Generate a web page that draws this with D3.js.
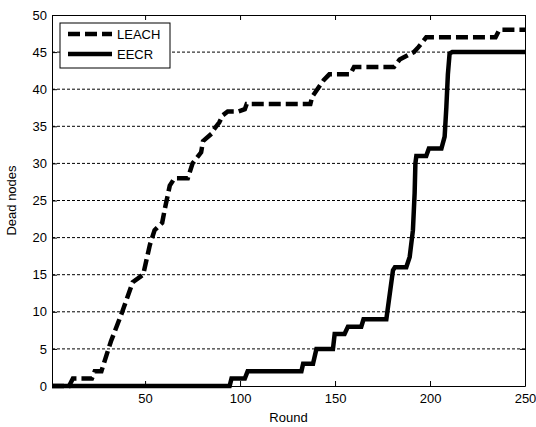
<!DOCTYPE html>
<meta charset="utf-8">
<script src="https://d3js.org/d3.v7.min.js"></script>
<style>
  body { margin: 0; background: #fff; }
  text { font-family: Arial, "Liberation Sans", sans-serif; fill: #000; }
</style>
<div id="my_dataviz"></div>
<script>

// curve readings (round, dead nodes)
var leachRound = [1, 10, 12, 22, 23.5, 27, 32, 38, 43.5, 49, 52.5, 55, 59, 60.5, 63, 65.5, 72.5, 75, 79.5, 80.5, 85, 86, 89, 91, 93.5, 99, 102.5, 103.5, 137, 138, 141.5, 144, 147, 158, 160, 181, 184, 187, 191.5, 194, 198, 234.5, 236.5, 250];
var leachDead  = [0, 0, 1, 1, 2, 2, 6, 10, 14, 15, 19, 21, 22, 24, 27, 28, 28, 30, 31.5, 33, 34, 34.5, 35.5, 36.5, 37, 37, 37.3, 38, 38, 39, 40.3, 41.2, 42, 42, 43, 43, 44, 44.4, 45, 45.7, 47, 47, 48, 48];

var eecrRound = [1, 94.5, 95.5, 102.5, 104, 132.3, 133.2, 138.4, 140.2, 148.9, 149.8, 155, 156.8, 163.8, 165, 177, 180.5, 181.5, 187.5, 189.3, 191, 191.9, 192.3, 192.8, 198, 199.4, 206, 207.7, 208.6, 209.4, 210.3, 211.7, 250];
var eecrDead  = [0, 0, 1, 1, 2, 2, 3, 3, 5, 5, 7, 7, 8, 8, 9, 9, 15.6, 16, 16, 17.4, 21, 26, 30, 31, 31, 32, 32, 33.6, 37.6, 42, 44.8, 45, 45];

var xTicks = [50, 100, 150, 200, 250];
var yTicks = [0, 5, 10, 15, 20, 25, 30, 35, 40, 45, 50];
var seriesNames = ["LEACH", "EECR"];

var W = 536, H = 427;
var margin = {top: 15, right: 11, bottom: 41, left: 52};
var width = W - margin.left - margin.right,
    height = H - margin.top - margin.bottom;

var svg = d3.select("#my_dataviz")
  .append("svg")
    .attr("width", W)
    .attr("height", H)
  .append("g")
    .attr("transform", "translate(" + margin.left + "," + margin.top + ")");

var x = d3.scaleLinear().domain([1, 250]).range([0, width]);
var y = d3.scaleLinear().domain([0, 50]).range([height, 0]);

// horizontal grid
svg.selectAll(".grid")
  .data(yTicks.filter(function(d) { return d > 0 && d < 50; }))
  .enter().append("line")
    .attr("x1", 0).attr("x2", width)
    .attr("y1", function(d) { return y(d); })
    .attr("y2", function(d) { return y(d); })
    .attr("stroke", "#000")
    .attr("stroke-width", 1)
    .attr("stroke-dasharray", "3,2");

// axes
var xAxis = svg.append("g")
  .attr("transform", "translate(0," + height + ")")
  .call(d3.axisBottom(x).tickValues(xTicks).tickSizeInner(-5).tickSizeOuter(0).tickPadding(8));
var xAxisTop = svg.append("g")
  .call(d3.axisTop(x).tickValues(xTicks).tickSizeInner(-5).tickSizeOuter(0).tickFormat(""));
var yAxis = svg.append("g")
  .call(d3.axisLeft(y).tickValues(yTicks).tickSizeInner(-5).tickSizeOuter(0).tickPadding(5));
var yAxisRight = svg.append("g")
  .attr("transform", "translate(" + width + ",0)")
  .call(d3.axisRight(y).tickValues(yTicks).tickSizeInner(-5).tickSizeOuter(0).tickFormat(""));

svg.selectAll(".domain").attr("stroke", "#000");
svg.selectAll(".tick line").attr("stroke", "#000");
svg.selectAll(".tick text").style("font-size", "13px").attr("fill", "#000");

// lines
var line = d3.line()
  .x(function(d) { return x(d[0]); })
  .y(function(d) { return y(d[1]); });

var leach = leachRound.map(function(r, i) { return [r, leachDead[i]]; });
var eecr = eecrRound.map(function(r, i) { return [r, eecrDead[i]]; });

svg.append("path")
  .datum(eecr)
  .attr("d", line)
  .attr("fill", "none")
  .attr("stroke", "#000")
  .attr("stroke-width", 4.5);

svg.append("path")
  .datum(leach)
  .attr("d", line)
  .attr("fill", "none")
  .attr("stroke", "#000")
  .attr("stroke-width", 4.5)
  .attr("stroke-dasharray", "12,5");

// axis labels
svg.append("text")
  .attr("x", width / 2)
  .attr("y", height + 36)
  .attr("text-anchor", "middle")
  .style("font-size", "13px")
  .text("Round");

svg.append("text")
  .attr("transform", "rotate(-90)")
  .attr("x", -height / 2)
  .attr("y", -36)
  .attr("text-anchor", "middle")
  .style("font-size", "13px")
  .text("Dead nodes");

// legend
var legend = svg.append("g").attr("transform", "translate(8,8)");
legend.append("rect")
  .attr("width", 110).attr("height", 45)
  .attr("fill", "#fff").attr("stroke", "#000");
seriesNames.forEach(function(name, i) {
  legend.append("line")
    .attr("x1", 8).attr("x2", 52)
    .attr("y1", 11 + i * 20).attr("y2", 11 + i * 20)
    .attr("stroke", "#000").attr("stroke-width", 4.5)
    .attr("stroke-dasharray", i === 0 ? "12,5" : null);
  legend.append("text")
    .attr("x", 57).attr("y", 11 + i * 20 + 5)
    .style("font-size", "13px")
    .text(name);
});

</script>
